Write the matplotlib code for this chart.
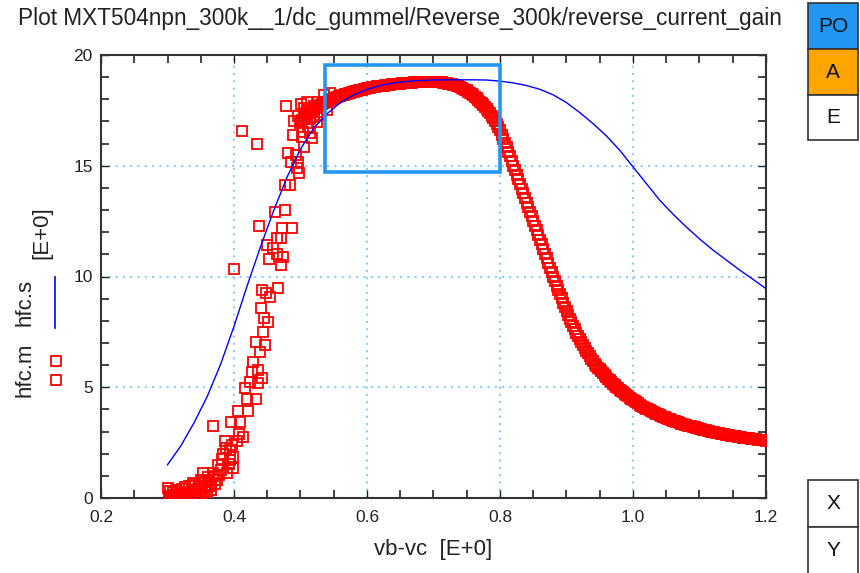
import numpy as np
import matplotlib
matplotlib.use("Agg")
import matplotlib.pyplot as plt
from matplotlib.patches import Rectangle
from matplotlib.lines import Line2D

plt.rcParams['font.family'] = ['Liberation Sans', 'DejaVu Sans']

# measured hfc.m, noisy low-bias part
scatter_x = [0.300, 0.302, 0.305, 0.308, 0.311, 0.314, 0.317, 0.320, 0.323, 0.326,
             0.327, 0.330, 0.333, 0.336, 0.338, 0.340, 0.343, 0.346, 0.348, 0.350,
             0.351, 0.353, 0.356, 0.359, 0.362, 0.363, 0.366, 0.368, 0.368, 0.371,
             0.374, 0.376, 0.378, 0.380, 0.382, 0.386, 0.388, 0.389, 0.392, 0.394,
             0.394, 0.395, 0.399, 0.399, 0.400, 0.404, 0.406, 0.408, 0.409, 0.412,
             0.413, 0.419, 0.421, 0.424, 0.429, 0.433, 0.433, 0.435, 0.436, 0.436,
             0.438, 0.439, 0.442, 0.442, 0.444, 0.445, 0.448, 0.450, 0.451, 0.453,
             0.454, 0.459, 0.462, 0.465, 0.465, 0.466, 0.470, 0.471, 0.472, 0.474,
             0.476, 0.477, 0.478, 0.481, 0.484, 0.486, 0.487, 0.493, 0.494, 0.496,
             0.496, 0.497, 0.499, 0.502, 0.504, 0.506, 0.508, 0.511, 0.511, 0.514,
             0.518, 0.520, 0.525, 0.527,
             0.304, 0.309, 0.313, 0.318, 0.322, 0.328, 0.332, 0.337, 0.342, 0.347,
             0.352, 0.357, 0.361, 0.365, 0.372, 0.384, 0.397, 0.416, 0.427, 0.440,
             0.447, 0.488, 0.490, 0.500, 0.505, 0.510, 0.515, 0.520, 0.530, 0.535,
             0.540, 0.545]
scatter_y = [0.45, 0.10, 0.02, 0.25, 0.05, 0.15, 0.02, 0.20, 0.05, 0.12,
             0.50, 0.02, 0.22, 0.08, 0.68, 0.30, 0.10, 0.40, 0.55, 0.15,
             0.81, 1.13, 0.45, 0.25, 0.60, 0.81, 0.35, 1.13, 3.25, 0.65,
             0.81, 1.49, 1.05, 1.27, 1.76, 2.57, 2.26, 1.13, 1.55, 2.17,
             1.70, 3.43, 1.85, 1.35, 10.34, 2.57, 3.93, 2.89, 3.43, 16.57,
             2.75, 4.47, 3.93, 5.24, 6.14, 4.47, 7.04, 15.98, 5.78, 5.20,
             12.30, 6.60, 5.42, 9.39, 7.50, 8.13, 9.26, 11.40, 7.95, 10.80,
             9.07, 11.30, 12.90, 11.75, 11.00, 9.50, 10.50, 11.75, 12.20, 10.90,
             13.00, 14.13, 17.70, 15.58, 14.13, 15.17, 12.20, 15.49, 14.90, 15.17,
             17.25, 14.67, 16.93, 16.30, 16.52, 15.85, 17.40, 16.75, 17.50, 17.10,
             16.26, 17.70, 16.97, 17.90,
             0.30, 0.12, 0.35, 0.08, 0.40, 0.25, 0.55, 0.35, 0.60, 0.20,
             0.45, 0.70, 0.95, 0.55, 1.00, 2.00, 2.40, 4.95, 5.70, 8.60,
             6.90, 16.40, 17.00, 17.80, 17.60, 17.90, 16.50, 17.20, 17.30, 18.20,
             17.50, 18.30]

# measured hfc.m, dense sweep 0.50 .. 1.20 V in 2.5 mV steps
sweep_start, sweep_stop = 0.50, 1.20
dense_y = [17.00, 17.08, 17.15, 17.23, 17.30, 17.36, 17.42, 17.49, 17.55, 17.60,
           17.65, 17.70, 17.75, 17.79, 17.83, 17.87, 17.90, 17.94, 17.98, 18.02,
           18.05, 18.08, 18.10, 18.13, 18.15, 18.18, 18.20, 18.23, 18.25, 18.28,
           18.30, 18.33, 18.35, 18.37, 18.38, 18.40, 18.42, 18.44, 18.46, 18.48,
           18.50, 18.52, 18.53, 18.55, 18.56, 18.57, 18.58, 18.59, 18.60, 18.61,
           18.62, 18.63, 18.64, 18.65, 18.66, 18.67, 18.68, 18.69, 18.70, 18.70,
           18.71, 18.72, 18.73, 18.73, 18.74, 18.74, 18.75, 18.75, 18.76, 18.76,
           18.77, 18.77, 18.78, 18.78, 18.79, 18.79, 18.80, 18.80, 18.80, 18.80,
           18.80, 18.80, 18.79, 18.78, 18.77, 18.76, 18.75, 18.74, 18.72, 18.71,
           18.69, 18.67, 18.65, 18.63, 18.61, 18.59, 18.56, 18.52, 18.48, 18.44,
           18.40, 18.35, 18.30, 18.24, 18.18, 18.12, 18.05, 17.98, 17.90, 17.83,
           17.75, 17.66, 17.57, 17.47, 17.37, 17.26, 17.14, 17.01, 16.88, 16.74,
           16.60, 16.41, 16.22, 16.03, 15.84, 15.64, 15.43, 15.22, 15.00, 14.80,
           14.60, 14.39, 14.18, 13.97, 13.76, 13.55, 13.34, 13.13, 12.92, 12.71,
           12.50, 12.29, 12.08, 11.87, 11.66, 11.45, 11.24, 11.03, 10.82, 10.61,
           10.40, 10.19, 9.99, 9.79, 9.59, 9.39, 9.20, 9.01, 8.82, 8.63,
           8.45, 8.27, 8.10, 7.93, 7.77, 7.61, 7.46, 7.31, 7.17, 7.03,
           6.90, 6.77, 6.65, 6.53, 6.41, 6.29, 6.18, 6.07, 5.97, 5.89,
           5.82, 5.73, 5.64, 5.55, 5.47, 5.39, 5.31, 5.23, 5.16, 5.09,
           5.02, 4.95, 4.89, 4.83, 4.77, 4.71, 4.65, 4.59, 4.53, 4.47,
           4.42, 4.37, 4.32, 4.27, 4.22, 4.17, 4.13, 4.08, 4.04, 4.00,
           3.96, 3.92, 3.88, 3.84, 3.81, 3.77, 3.74, 3.70, 3.67, 3.64,
           3.61, 3.58, 3.55, 3.52, 3.49, 3.46, 3.44, 3.41, 3.39, 3.36,
           3.34, 3.31, 3.29, 3.27, 3.25, 3.23, 3.21, 3.19, 3.17, 3.15,
           3.13, 3.11, 3.09, 3.07, 3.05, 3.03, 3.02, 3.00, 2.98, 2.96,
           2.95, 2.93, 2.92, 2.90, 2.89, 2.87, 2.86, 2.84, 2.83, 2.82,
           2.81, 2.79, 2.78, 2.77, 2.76, 2.74, 2.73, 2.72, 2.71, 2.70,
           2.69, 2.68, 2.67, 2.66, 2.65, 2.64, 2.63, 2.62, 2.61, 2.60,
           2.59]
dense_x = np.linspace(sweep_start, sweep_stop, len(dense_y))

# simulated hfc.s
sim_x = [0.30, 0.32, 0.34, 0.36, 0.38, 0.40, 0.42, 0.44, 0.46, 0.48,
         0.50, 0.52, 0.54, 0.56, 0.58, 0.60, 0.62, 0.64, 0.66, 0.68,
         0.70, 0.72, 0.74, 0.76, 0.78, 0.80, 0.82, 0.84, 0.86, 0.88,
         0.90, 0.92, 0.94, 0.96, 0.98, 1.00, 1.02, 1.04, 1.06, 1.08,
         1.10, 1.12, 1.14, 1.16, 1.18, 1.20]
sim_y = [1.50, 2.35, 3.40, 4.60, 6.05, 7.75, 9.60, 11.35, 13.00, 14.50,
         15.75, 16.70, 17.35, 17.85, 18.20, 18.45, 18.62, 18.74, 18.81, 18.85,
         18.87, 18.88, 18.88, 18.88, 18.87, 18.82, 18.74, 18.62, 18.45, 18.20,
         17.85, 17.40, 16.90, 16.35, 15.70, 14.95, 14.20, 13.45, 12.82, 12.24,
         11.70, 11.20, 10.75, 10.30, 9.88, 9.45]

# zoom box drawn on the plot
zoom_box = (0.537, 14.72, 0.800, 19.55)

x_ticks = [0.2, 0.4, 0.6, 0.8, 1.0, 1.2]
x_tick_labels = ['0.2', '0.4', '0.6', '0.8', '1.0', '1.2']
y_ticks = [0, 5, 10, 15, 20]

W, H = 860, 573


def fx(px):
    return px / W


def fy(py):
    return 1 - py / H


fig = plt.figure(figsize=(W / 100, H / 100), dpi=100)
ax = fig.add_axes([fx(101), fy(498), fx(766) - fx(101), fy(55) - fy(498)])

mk = dict(ls='none', marker='s', mfc='none', mec='red', ms=7, mew=1.3, zorder=3)
ax.plot(scatter_x, scatter_y, **mk)
ax.plot(dense_x, dense_y, **mk)
ax.plot(sim_x, sim_y, '-', color='#0000ff', lw=1.0, zorder=4)

x0, y0, x1, y1 = zoom_box
ax.add_patch(Rectangle((x0, y0), x1 - x0, y1 - y0, fill=False,
                       ec='#2196f3', lw=2.6, zorder=5))

ax.set_xlim(0.2, 1.2)
ax.set_ylim(0, 20)
ax.set_xticks(x_ticks)
ax.set_xticklabels(x_tick_labels)
ax.set_yticks(y_ticks)
ax.set_xticks(np.arange(0.2, 1.2001, 0.05), minor=True)
ax.set_yticks(np.arange(0, 20.01, 1), minor=True)
ax.tick_params(which='both', direction='in', top=True, right=True,
               color='#222222', labelsize=12.5, labelcolor='#222222')
ax.tick_params(axis='x', pad=9)
ax.tick_params(axis='y', pad=6)
ax.tick_params(which='major', length=6, width=1)
ax.tick_params(which='minor', length=6, width=1.2)
ax.grid(which='major', color='#87cefa', ls=(0, (1, 2.5)), lw=1.5)
for s in ax.spines.values():
    s.set_color('#333333')
    s.set_linewidth(1.5)

ax.set_xlabel('vb-vc  [E+0]', fontsize=16, color='#222222', labelpad=10)

# title
fig.text(fx(18), fy(18), 'Plot MXT504npn_300k__1/dc_gummel/Reverse_300k/reverse_current_gain',
         fontsize=16.3, color='#222222', ha='left', va='center')

# y label with legend keys
fig.text(fx(25), fy(370), 'hfc.m', rotation=90, fontsize=16, ha='center', va='center', color='#222222')
fig.text(fx(25), fy(302), 'hfc.s', rotation=90, fontsize=16, ha='center', va='center', color='#222222')
fig.text(fx(42), fy(233), '[E+0]', rotation=90, fontsize=16, ha='center', va='center', color='#222222')
for py in (361, 380):
    fig.add_artist(Line2D([fx(56)], [fy(py)], marker='s', mfc='none', mec='red',
                          ms=7, mew=1.3, transform=fig.transFigure))
fig.add_artist(Line2D([fx(55), fx(55)], [fy(277), fy(328)], color='#0000ff', lw=1.2,
                      transform=fig.transFigure))

# side buttons
buttons = [('PO', 3, 49, '#2196f3'), ('A', 49, 95, '#ffa500'), ('E', 95, 140, 'white'),
           ('X', 480, 527, 'white'), ('Y', 527, 575, 'white')]
for label, top, bot, col in buttons:
    fig.add_artist(Rectangle((fx(808), fy(bot)), fx(858) - fx(808), fy(top) - fy(bot),
                             transform=fig.transFigure, fc=col, ec='#333333', lw=1.2))
    fig.text(fx(833), fy((top + bot) / 2), label, fontsize=15, ha='center', va='center',
             color='#111111')

fig.savefig('out.png', dpi=100)
